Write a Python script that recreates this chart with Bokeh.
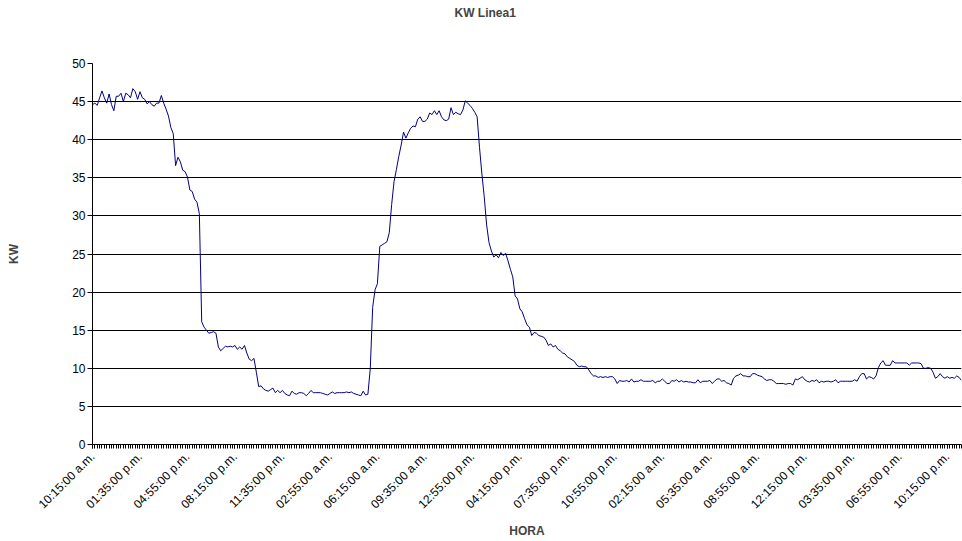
import math
from bokeh.plotting import figure
from bokeh.models import FixedTicker, Range1d, Title
from bokeh.embed import file_html
from bokeh.resources import INLINE

# KW readings, one every 10 minutes starting 10:15:00 a.m.
kw = [
    44.6, 44.8, 44.5, 45.5, 46.4, 45.5, 44.8, 46.0, 44.6, 43.8,
    45.7, 45.7, 46.1, 45.0, 46.1, 45.9, 45.5, 46.7, 46.3, 45.3,
    46.3, 45.5, 45.3, 44.7, 45.0, 44.6, 44.4, 44.8, 44.8, 45.8,
    44.8, 44.0, 43.1, 41.6, 40.8, 36.6, 37.7, 37.1, 36.0, 35.8,
    35.1, 33.4, 33.2, 32.2, 31.8, 30.3, 16.1, 15.4, 15.0, 14.6,
    14.7, 14.8, 14.6, 12.8, 12.3, 12.6, 12.9, 12.8, 12.9, 12.8,
    13.0, 12.5, 12.8, 12.5, 13.0, 12.0, 11.2, 11.0, 11.3, 9.5,
    7.6, 7.7, 7.3, 7.1, 7.0, 7.2, 7.4, 6.8, 7.1, 6.8,
    7.1, 6.7, 6.5, 6.4, 7.0, 6.7, 6.6, 6.8, 6.8, 6.7,
    6.4, 6.7, 7.1, 6.8, 6.8, 6.8, 6.8, 6.7, 6.6, 6.5,
    6.7, 6.9, 6.7, 6.8, 6.8, 6.8, 6.8, 6.9, 6.8, 6.9,
    6.7, 6.6, 6.5, 6.4, 7.0, 6.5, 6.6, 10.0, 18.0, 20.3,
    21.1, 26.0, 26.2, 26.4, 26.6, 27.8, 31.5, 34.5, 36.1, 37.8,
    39.3, 41.0, 40.2, 40.9, 41.5, 41.8, 41.7, 42.7, 43.0, 42.4,
    42.4, 42.7, 43.5, 43.3, 43.8, 43.3, 43.8, 43.0, 42.6, 42.5,
    42.7, 44.2, 43.3, 43.6, 43.4, 43.3, 43.9, 45.1, 44.8, 44.5,
    44.1, 43.6, 43.0, 39.0, 35.5, 32.5, 28.8, 26.5, 25.4, 24.6,
    24.9, 24.5, 25.2, 24.8, 25.1, 24.1, 23.0, 22.0, 19.5, 19.1,
    17.8, 17.4, 16.5, 15.7, 15.4, 14.3, 14.7, 14.6, 14.3, 14.2,
    14.1, 13.7, 13.0, 13.2, 12.8, 13.0, 12.5, 12.3, 12.0, 11.9,
    11.5, 11.3, 11.1, 10.9, 10.4, 10.2, 10.3, 10.2, 10.2, 9.8,
    9.3, 9.0, 9.0, 8.8, 8.9, 8.8, 8.9, 8.8, 8.9, 8.9,
    8.6, 8.0, 8.4, 8.3, 8.3, 8.4, 8.2, 8.6, 8.2, 8.3,
    8.3, 8.5, 8.3, 8.3, 8.3, 8.3, 8.4, 8.1, 8.3, 8.3,
    8.6, 8.3, 8.0, 8.0, 8.4, 8.3, 8.5, 8.2, 8.4, 8.2,
    8.3, 8.2, 8.2, 8.1, 8.1, 8.5, 8.1, 8.3, 8.3, 8.3,
    8.4, 8.0, 8.3, 8.6, 8.6, 8.3, 8.4, 8.1, 8.0, 7.8,
    8.7, 9.0, 9.1, 9.3, 9.0, 9.0, 8.9, 8.9, 9.3, 9.3,
    9.1, 9.0, 8.9, 8.6, 8.4, 8.5, 8.5, 8.3, 8.0, 8.0,
    8.0, 8.0, 7.9, 8.0, 8.0, 7.8, 8.6, 8.5, 8.7, 8.9,
    8.5, 8.3, 8.2, 8.4, 8.3, 8.5, 8.1, 8.3, 8.2, 8.3,
    8.3, 8.2, 8.3, 8.5, 8.1, 8.3, 8.3, 8.3, 8.3, 8.3,
    8.3, 8.5, 8.3, 8.9, 9.3, 9.3, 8.6, 8.9, 8.8, 8.6,
    9.0, 10.1, 10.7, 11.0, 10.4, 10.4, 10.4, 11.0, 10.7, 10.7,
    10.7, 10.7, 10.7, 10.7, 10.4, 10.7, 10.7, 10.7, 10.7, 10.6,
    10.0, 10.0, 10.1, 10.0, 9.5, 8.7, 8.9, 9.3, 8.9, 8.7,
    8.9, 8.7, 8.8, 8.7, 9.0, 8.8, 8.4,
]

# Category-axis labels, shown on every 20th reading
tick_labels = [
    "10:15:00 a.m.", "01:35:00 p.m.", "04:55:00 p.m.", "08:15:00 p.m.",
    "11:35:00 p.m.", "02:55:00 a.m.", "06:15:00 a.m.", "09:35:00 a.m.",
    "12:55:00 p.m.", "04:15:00 p.m.", "07:35:00 p.m.", "10:55:00 p.m.",
    "02:15:00 a.m.", "05:35:00 a.m.", "08:55:00 a.m.", "12:15:00 p.m.",
    "03:35:00 p.m.", "06:55:00 p.m.", "10:15:00 p.m.",
]
label_step = 20
y_ticks = [0, 5, 10, 15, 20, 25, 30, 35, 40, 45, 50]

FONT = "Liberation Sans"

x = list(range(len(kw)))
tick_positions = [i * label_step for i in range(len(tick_labels))]

p = figure(
    width=962, height=541, output_backend="svg", toolbar_location=None,
    x_range=Range1d(0, len(kw) - 1), y_range=Range1d(0, 50),
    min_border_left=92, min_border_right=1, min_border_top=62, min_border_bottom=97,
)
p.outline_line_color = None
p.background_fill_color = "white"
p.border_fill_color = "white"

p.line(x, kw, line_color="#000080", line_width=1)

# chart title (an empty spacer title sits between it and the plot area)
p.title.text = "KW Linea1"
p.title.text_font = FONT
p.title.text_font_size = "12px"
p.title.text_font_style = "bold"
p.title.align = "left"
p.title.offset = 362
p.title.vertical_align = "top"
p.title.standoff = 10
p.add_layout(Title(text=" ", text_font_size="31px", standoff=0), "above")

# x axis
xa = p.xaxis[0]
xa.ticker = FixedTicker(ticks=tick_positions, minor_ticks=x)
xa.major_label_overrides = {pos: lab for pos, lab in zip(tick_positions, tick_labels)}
xa.major_label_orientation = math.pi / 4
xa.major_tick_out = 4
xa.major_tick_in = 0
xa.minor_tick_out = 4
xa.minor_tick_in = 0
xa.axis_line_color = "black"
xa.major_tick_line_color = "black"
xa.minor_tick_line_color = "black"
xa.major_label_text_font = FONT
xa.major_label_text_font_size = "12px"
xa.major_label_text_color = "black"
xa.major_label_standoff = 6
xa.axis_label = "HORA"
xa.axis_label_text_font = FONT
xa.axis_label_text_font_size = "12px"
xa.axis_label_text_font_style = "bold"
xa.axis_label_standoff = 5

# y axis
ya = p.yaxis[0]
ya.ticker = FixedTicker(ticks=y_ticks)
ya.major_tick_out = 5
ya.major_tick_in = 0
ya.minor_tick_line_color = None
ya.axis_line_color = "black"
ya.major_tick_line_color = "black"
ya.major_label_text_font = FONT
ya.major_label_text_font_size = "12px"
ya.major_label_text_color = "black"
ya.major_label_standoff = 2
ya.axis_label = "KW"
ya.axis_label_text_font = FONT
ya.axis_label_text_font_size = "12px"
ya.axis_label_text_font_style = "bold"
ya.axis_label_standoff = 48

p.xgrid.visible = False
p.ygrid.ticker = FixedTicker(ticks=y_ticks)
p.ygrid.grid_line_color = "black"
p.ygrid.grid_line_width = 1

open("out.html", "w").write(file_html(p, INLINE))
